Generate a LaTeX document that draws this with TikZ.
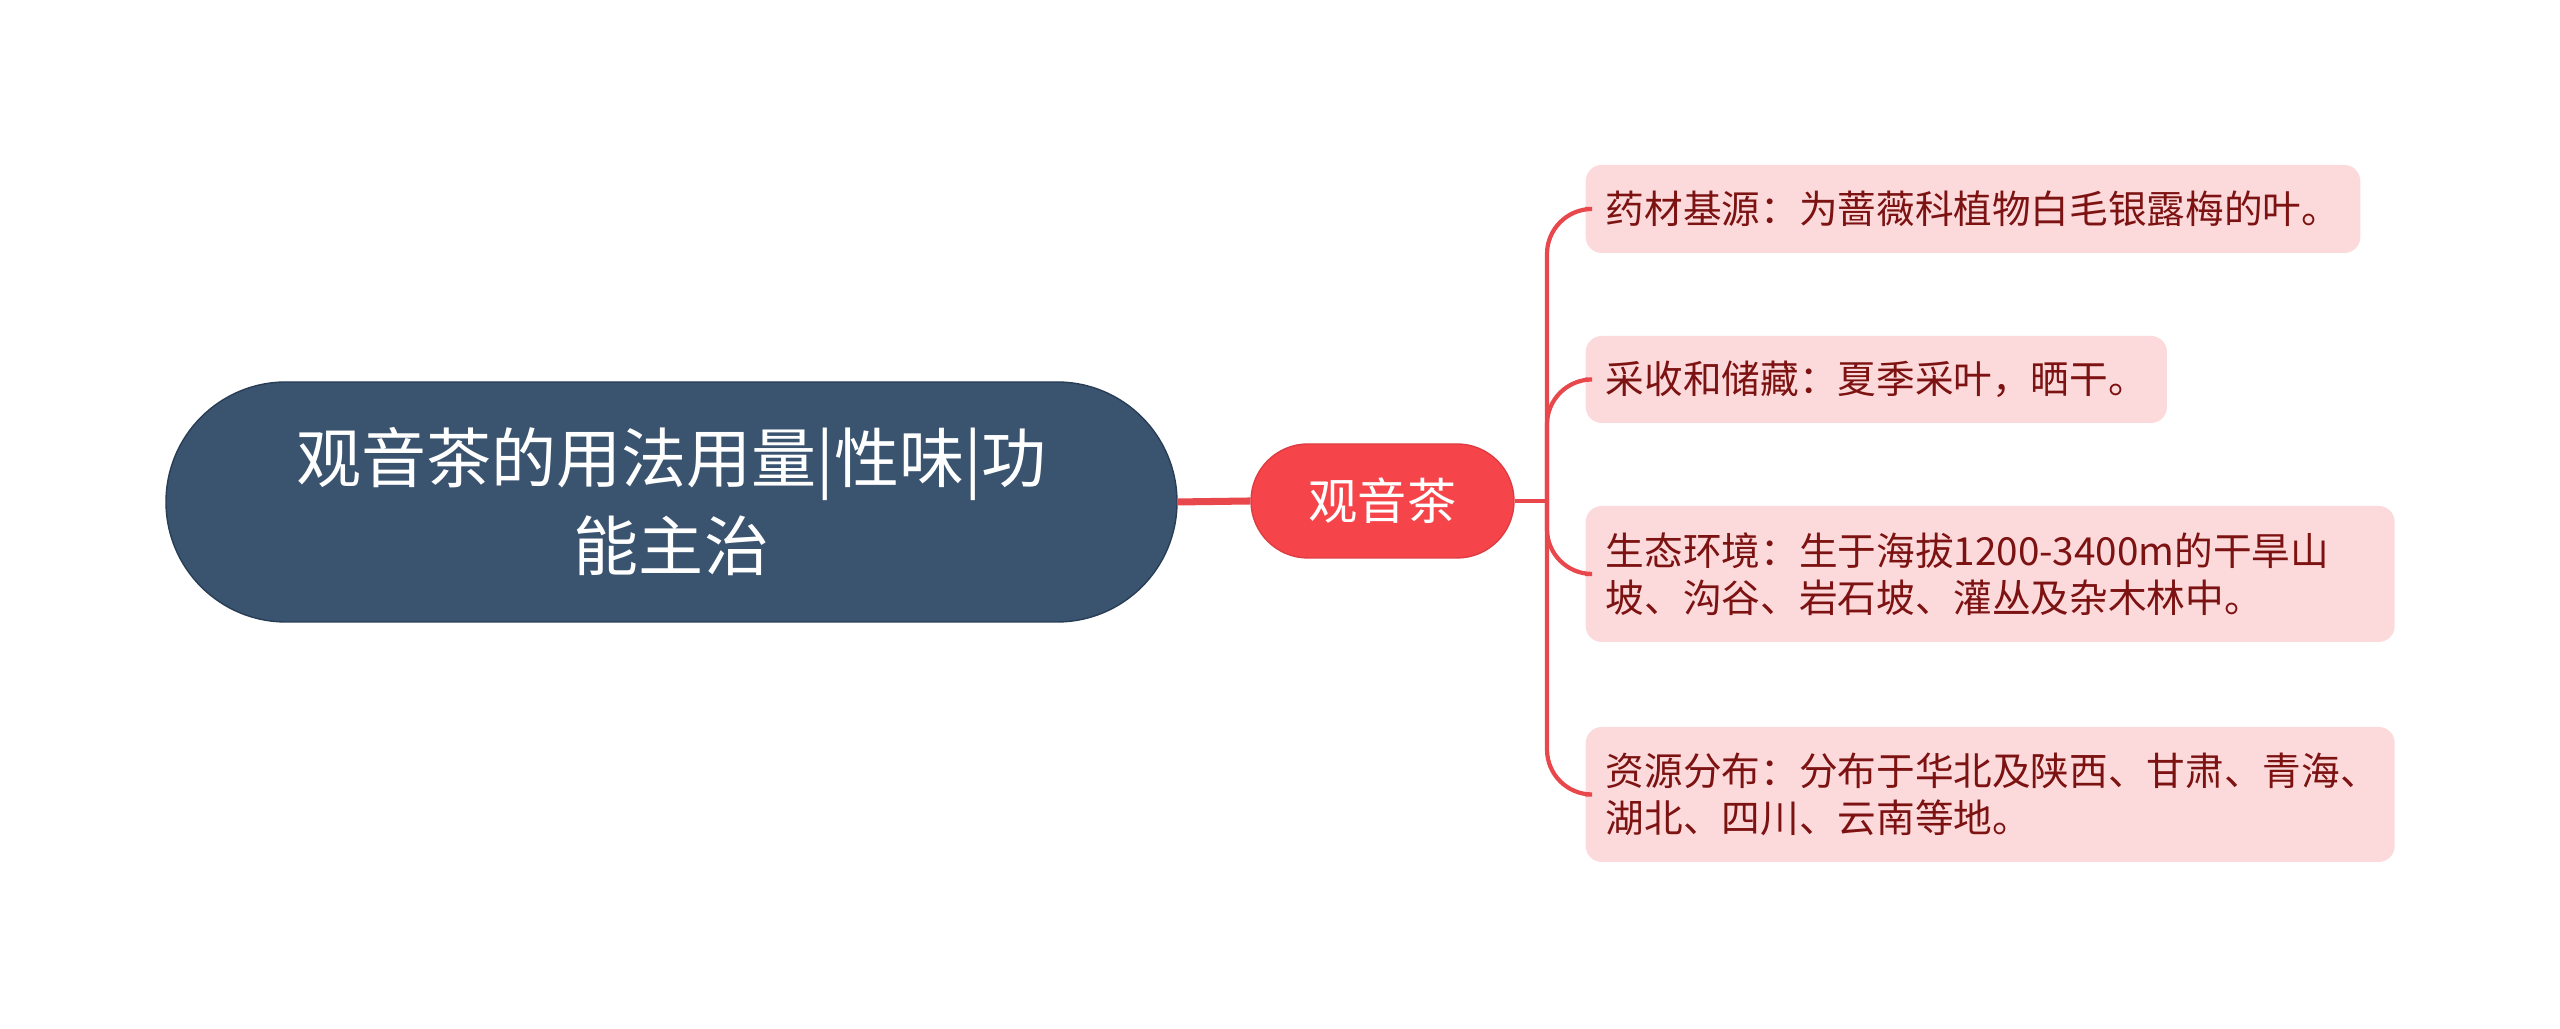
\documentclass[tikz,border=0pt]{standalone}
\usepackage{fontspec}
\setmainfont{Noto Sans CJK SC}
\definecolor{rootblue}{RGB}{58,84,112}
\definecolor{rootedge}{RGB}{40,62,86}
\definecolor{teared}{RGB}{245,69,74}
\definecolor{tearededge}{RGB}{222,60,66}
\definecolor{branchred}{RGB}{232,71,76}
\definecolor{leafpink}{RGB}{252,218,219}
\definecolor{leaftext}{RGB}{125,18,18}
\usepackage{tikz}
\usetikzlibrary{positioning,calc}

\begin{document}
\begin{tikzpicture}[
    rootbox/.style={draw=rootedge, fill=rootblue, text=white, rounded corners=1.2cm,
        minimum width=10.11cm, minimum height=2.4cm, align=center,
        font=\fontsize{18.5}{25}\selectfont},
    topicbox/.style={draw=tearededge, fill=teared, text=white, rounded corners=0.57cm,
        minimum width=2.63cm, minimum height=1.14cm, font=\fontsize{14}{17}\selectfont},
    leafbox/.style={fill=leafpink, text=leaftext, rounded corners=0.16cm, anchor=west,
        inner xsep=0.2cm, align=left, font=\fontsize{11}{13.4}\selectfont},
    branch/.style={draw=branchred, line width=1.2pt, rounded corners=0.45cm},
  ]
  \useasboundingbox (0,0) rectangle (25.6,10.29);

  \node[rootbox] (root) at (6.715,5.27) {观音茶的用法用量|性味|功\\能主治};
  \node[topicbox] (tea) at (13.825,5.28) {观音茶};

  \node[leafbox, minimum height=0.88cm] (source) at (15.85,8.20) {药材基源：为蔷薇科植物白毛银露梅的叶。};
  \node[leafbox, minimum height=0.87cm] (harvest) at (15.85,6.495) {采收和储藏：夏季采叶，晒干。};
  \node[leafbox, minimum height=1.36cm, text width=7.69cm] (habitat) at (15.85,4.55)
    {生态环境：生于海拔1200-3400m的干旱山\\坡、沟谷、岩石坡、灌丛及杂木林中。};
  \node[leafbox, minimum height=1.35cm, text width=7.69cm] (range) at (15.85,2.345)
    {资源分布：分布于华北及陕西、甘肃、青海、\\湖北、四川、云南等地。};

  \coordinate (fork) at (15.47,5.28);
  \draw[branchred, line width=2pt] (root.east) -- (tea.west);
  \draw[branchred, line width=1.4pt] (tea.east) -- (fork);
  \foreach \leaf in {source,harvest,habitat,range}
    \draw[branch] (fork) |- (\leaf.west);
\end{tikzpicture}
\end{document}
